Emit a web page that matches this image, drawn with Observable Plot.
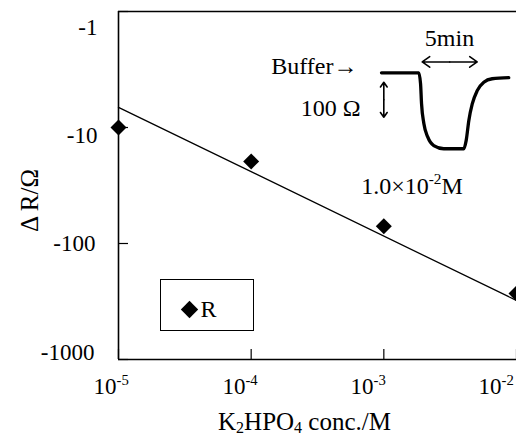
<!DOCTYPE html>
<html><head><meta charset="utf-8">
<script src="https://cdn.jsdelivr.net/npm/d3@7"></script>
<script src="https://cdn.jsdelivr.net/npm/@observablehq/plot@0.6"></script>
<style>
body{margin:0;background:#fff;}
#wrap{position:relative;width:516px;height:436px;overflow:hidden;background:#fff;}
#wrap svg{position:absolute;left:0;top:0;}
</style></head><body><div id="wrap"></div>
<script>
// ---- data ----
const conc = [1e-5, 1e-4, 1e-3, 1e-2];            // K2HPO4 conc. / M
const deltaR = [-10, -19.6, -71, -270];            // ΔR / Ω
const fitConc = [1e-5, 1e-2];
const fitDeltaR = [-6.7, -310];
const xTicks = [1e-5, 1e-4, 1e-3, 1e-2];
const xTickLabels = ["10⁻⁵", "10⁻⁴", "10⁻³", "10⁻²"];
const yTicks = [-1, -10, -100, -1000];
const yTickLabels = ["-1", "-10", "-100", "-1000"];
// inset: response trace at 1.0×10⁻² M
const traceTime = [0, 3.39, 3.55, 3.64, 3.85, 4.21, 4.75, 5.66, 7.48, 7.7, 7.94, 8.25, 8.7, 9.3, 10.06, 11.57]; // min
const traceDeltaR = [0, 0, -31, -88, -145, -184, -208, -217, -217, -193, -136, -89, -51, -27, -17, -14]; // Ω
const timeBarMin = [3.7, 8.7];   // 5 min
const timeBarLevel = 31;
const resBarOhm = [-27, -127];   // 100 Ω
const resBarTime = 0.21;

// ---- layout ----
const font = "'Liberation Serif', 'Times New Roman', serif";
const W = 516, H = 436, mL = 118, mT = 11, mR = 0, mB = 77;
const frameW = W - mL - mR, frameH = H - mT - mB;

const points = conc.map((c, i) => ({conc: c, dR: deltaR[i]}));
const fit = fitConc.map((c, i) => ({conc: c, dR: fitDeltaR[i]}));

const at = (s, px, py, o = {}) => Plot.text([s], {
  text: d => d, frameAnchor: "top-left", dx: px - mL, dy: py - mT,
  lineAnchor: "bottom", fill: "black", fontFamily: font, ...o
});

const xLabelDx = [-25, -28.7, -33.3, -38];
const yLabelDx = [-21, -21, -23, -24];
const yLabelDy = [23, 15, 7, 0];

const main = Plot.plot({
  width: W, height: H,
  marginLeft: mL, marginTop: mT, marginRight: mR, marginBottom: mB,
  x: {type: "log", domain: [1e-5, 1e-2], axis: null},
  y: {type: "log", domain: [-1000, -1], axis: null},
  style: {fontFamily: font, background: "transparent", overflow: "visible"},
  marks: [
    Plot.ruleX([xTicks[0]], {x: d => d, stroke: "black", strokeWidth: 1.6}),
    Plot.ruleY([yTicks[0], yTicks[3]], {y: d => d, stroke: "black", strokeWidth: 1.6}),
    Plot.tickX(xTicks, {x: d => d, insetTop: frameH - 10, stroke: "black", strokeWidth: 1.2}),
    Plot.tickY(yTicks, {y: d => d, insetRight: frameW - 10, stroke: "black", strokeWidth: 1.2}),
    Plot.line(fit, {x: "conc", y: "dR", stroke: "black", strokeWidth: 1.3}),
    Plot.dot(points, {x: "conc", y: "dR", symbol: "diamond2", r: 7.2, fill: "black"}),
    ...xTicks.map((t, i) => Plot.text([t], {
      x: d => d, frameAnchor: "bottom", text: () => xTickLabels[i],
      dx: xLabelDx[i], dy: 34, textAnchor: "start", lineAnchor: "bottom",
      fontSize: 23, fontFamily: font, fill: "black"
    })),
    ...yTicks.map((t, i) => Plot.text([t], {
      y: d => d, frameAnchor: "left", text: () => yTickLabels[i],
      dx: yLabelDx[i], dy: yLabelDy[i], textAnchor: "end", lineAnchor: "bottom",
      fontSize: 23, fontFamily: font, fill: "black"
    })),
    at("Δ R/Ω", 29, 200, {rotate: -90, textAnchor: "middle", lineAnchor: "middle", fontSize: 25}),
    at("K₂HPO₄ conc./M", 304, 429, {textAnchor: "middle", fontSize: 25}),
    // legend
    Plot.frame({insetLeft: 160 - mL, insetTop: 279 - mT, insetRight: W - 253, insetBottom: H - mB - 330, stroke: "black", strokeWidth: 1}),
    Plot.dot([0], {frameAnchor: "top-left", dx: 189 - mL, dy: 309 - mT, symbol: "diamond2", r: 7.8, fill: "black"}),
    at("R", 200, 316.5, {textAnchor: "start", fontSize: 24}),
    // inset annotations
    at("Buffer→", 357, 73.5, {textAnchor: "end", fontSize: 24}),
    at("5min", 449, 45, {textAnchor: "middle", fontSize: 24}),
    at("100 Ω", 360, 115, {textAnchor: "end", fontSize: 24}),
    at("1.0×10⁻²M", 411.5, 193, {textAnchor: "middle", fontSize: 24})
  ]
});

const trace = traceTime.map((t, i) => ({t, dR: traceDeltaR[i]}));
const tMid = (timeBarMin[0] + timeBarMin[1]) / 2;
const rMid = (resBarOhm[0] + resBarOhm[1]) / 2;
const arrows = [
  {x1: tMid, y1: timeBarLevel, x2: timeBarMin[0], y2: timeBarLevel},
  {x1: tMid, y1: timeBarLevel, x2: timeBarMin[1], y2: timeBarLevel},
  {x1: resBarTime, y1: rMid, x2: resBarTime, y2: resBarOhm[0]},
  {x1: resBarTime, y1: rMid, x2: resBarTime, y2: resBarOhm[1]}
];

const inset = Plot.plot({
  width: 266, height: 200, margin: 0,
  x: {domain: [0, 10], range: [131, 241], axis: null},
  y: {domain: [0, -100], range: [72.3, 107.3], axis: null},
  style: {background: "transparent", overflow: "visible"},
  marks: [
    Plot.line(trace, {x: "t", y: "dR", stroke: "black", strokeWidth: 3.3, curve: "monotone-x"}),
    Plot.arrow(arrows, {x1: "x1", y1: "y1", x2: "x2", y2: "y2", stroke: "black", strokeWidth: 1.6, headLength: 11, headAngle: 70})
  ]
});
inset.style.left = "250px";
inset.style.top = "0px";

const wrap = document.getElementById("wrap");
wrap.appendChild(main);
wrap.appendChild(inset);

// Render Unicode super/subscripts as real tspans so they look like the reference
const SUP = {"⁻": "-", "⁰": "0", "¹": "1", "²": "2", "³": "3", "⁴": "4", "⁵": "5", "⁶": "6", "⁷": "7", "⁸": "8", "⁹": "9"};
const SUB = {"₀": "0", "₁": "1", "₂": "2", "₃": "3", "₄": "4", "₅": "5", "₆": "6", "₇": "7", "₈": "8", "₉": "9"};
d3.select(main).selectAll("text").each(function () {
  const s = this.textContent;
  if (![...s].some(c => SUP[c] || SUB[c])) return;
  const fs = parseFloat(getComputedStyle(this).fontSize);
  const runs = [];
  for (const c of s) {
    const kind = SUP[c] ? "sup" : SUB[c] ? "sub" : "n";
    const ch = SUP[c] || SUB[c] || c;
    if (runs.length && runs[runs.length - 1].kind === kind) runs[runs.length - 1].t += ch;
    else runs.push({kind, t: ch});
  }
  const el = d3.select(this);
  el.text(null);
  let shift = 0;
  for (const r of runs) {
    const target = r.kind === "sup" ? -0.38 * fs : r.kind === "sub" ? 0.14 * fs : 0;
    const ts = el.append("tspan").attr("dy", target - shift).text(r.t);
    if (r.kind !== "n") ts.attr("font-size", 0.64 * fs);
    shift = target;
  }
});
</script>
</body></html>
